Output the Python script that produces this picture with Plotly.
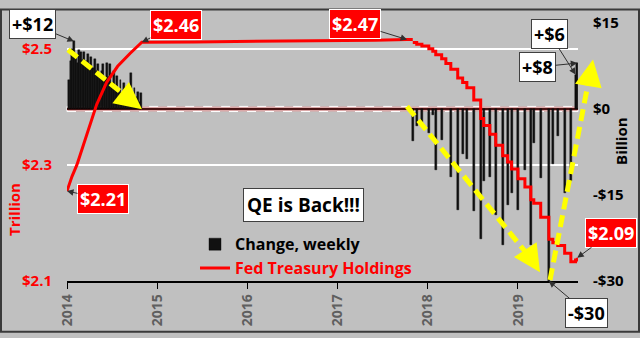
import pandas as pd
import plotly.graph_objects as go

# Weekly change in Fed Treasury holdings, $ billion
taper_start = "2014-01-08"
taper_values = [5.0, 8.3, 10.5, 11.8, 9.5, 8.0, 10.3, 10.0, 8.6, 10.0, 8.3, 9.6,
                7.8, 9.1, 7.1, 8.8, 6.6, 7.8, 5.5, 6.6, 7.8, 5.0, 8.0, 5.5,
                7.8, 4.5, 6.6, 3.6, 5.8, 3.0, 5.0, 2.8, 4.5, 2.5, 4.0, 2.1,
                6.3, 2.5, 3.6, 2.1, 3.0, 1.3, 2.8]

runoff_dates = ["2017-11-01", "2017-11-17", "2017-12-08", "2018-01-05", "2018-01-21",
                "2018-02-02", "2018-02-26", "2018-04-04", "2018-05-02", "2018-05-22",
                "2018-06-08", "2018-07-06", "2018-08-03", "2018-08-15", "2018-09-09",
                "2018-10-03", "2018-10-31", "2018-11-20", "2018-12-06", "2019-01-01",
                "2019-01-29", "2019-02-22", "2019-03-06", "2019-04-03", "2019-05-06",
                "2019-05-22", "2019-06-11", "2019-07-09", "2019-08-03", "2019-08-22",
                "2019-08-29"]
runoff_values = [-5.6, -3.0, -2.5, -4.2, -1.0, -10.6, -5.4, -11.8, -17.6, -7.9,
                 -8.7, -17.8, -22.6, -12.6, -11.8, -18.5, -23.8, -16.8, -14.6, -17.6,
                 -10.6, -23.8, -5.9, -12.1, -30.0, -9.6, -4.7, -14.6, -12.6, 6.0,
                 8.0]

# Fed Treasury holdings, $ trillion: purchases and plateau
holdings_dates = ["2014-01-01", "2014-01-21", "2014-02-10", "2014-03-11", "2014-04-04",
                  "2014-05-01", "2014-06-10", "2014-07-25", "2014-09-13", "2014-10-23",
                  "2014-10-31", "2015-06-01", "2016-06-01", "2017-06-01", "2017-10-09",
                  "2017-11-01"]
holdings_values = [2.205, 2.230, 2.250, 2.288, 2.321, 2.354, 2.392, 2.420, 2.442, 2.458,
                   2.4615, 2.462, 2.463, 2.465, 2.466, 2.466]

# Fed Treasury holdings, $ trillion: balance-sheet runoff (level after each roll-off)
runoff_holdings_dates = ["2017-11-01", "2017-11-17", "2017-12-08", "2018-01-05", "2018-01-21",
                         "2018-02-02", "2018-02-26", "2018-03-15", "2018-04-04", "2018-05-02",
                         "2018-05-22", "2018-06-08", "2018-07-06", "2018-08-03", "2018-08-15",
                         "2018-09-09", "2018-10-03", "2018-10-31", "2018-11-20", "2018-12-06",
                         "2019-01-01", "2019-01-29", "2019-02-22", "2019-03-06", "2019-04-03",
                         "2019-05-06", "2019-05-22", "2019-06-11", "2019-07-09", "2019-08-03",
                         "2019-08-22", "2019-08-29"]
runoff_holdings_values = [2.461, 2.458, 2.455, 2.450, 2.446, 2.440, 2.433, 2.425, 2.415, 2.400,
                          2.392, 2.383, 2.362, 2.330, 2.318, 2.303, 2.284, 2.266, 2.255, 2.243,
                          2.226, 2.212, 2.190, 2.184, 2.160, 2.122, 2.116, 2.111, 2.098, 2.083,
                          2.086, 2.090]

year_ticks = ["2014", "2015", "2016", "2017", "2018", "2019"]
left_tickvals = [2.05, 2.25, 2.45]
left_ticktext = ["$2.1", "$2.3", "$2.5"]
right_tickvals = [-30, -15, 0, 15]
right_ticktext = ["-$30", "-$15", "$0", "$15"]

DAY_MS = 86400000
taper_dates = list(pd.date_range(taper_start, periods=len(taper_values), freq="7D").strftime("%Y-%m-%d"))
bar_x = taper_dates + runoff_dates
bar_y = taper_values + runoff_values
bar_w = [7 * DAY_MS] * len(taper_values) + [8 * DAY_MS] * len(runoff_values)

FONT = "Open Sans"
BG = "#c0c0c0"
RED = "#ff0000"
HOLD_NAME = "<span style='color:#ff0000'>Fed Treasury Holdings</span>"

fig = go.Figure()
fig.add_trace(go.Bar(
    x=bar_x, y=bar_y, width=bar_w, name="Change, weekly",
    marker=dict(color="#111111", line=dict(color="black", width=0.4)),
    yaxis="y",
))
fig.add_trace(go.Scatter(
    x=holdings_dates, y=holdings_values, mode="lines", name=HOLD_NAME,
    legendgroup="hold", line=dict(color=RED, width=3), yaxis="y2",
))
fig.add_trace(go.Scatter(
    x=runoff_holdings_dates, y=runoff_holdings_values, mode="lines", name=HOLD_NAME,
    legendgroup="hold", showlegend=False, line=dict(color=RED, width=3, shape="hv"),
    yaxis="y2",
))

W, H = 640, 338
L, R, T, B = 67, 62, 14, 54
PW, PH = W - L - R, H - T - B


def px(xp):
    return (xp - L) / PW


def py(yp):
    return (H - B - yp) / PH


shapes = []
# zero band for the weekly change axis
shapes.append(dict(type="rect", xref="paper", yref="y", x0=0, x1=1, y0=-0.45, y1=0.45,
                   fillcolor="rgba(228,160,160,0.75)", line=dict(color="white", width=1, dash="dash"),
                   layer="below"))
shapes.append(dict(type="line", xref="paper", yref="y", x0=0, x1=1, y0=0, y1=0,
                   line=dict(color="#4a1414", width=2), layer="below"))

# yellow trend arrows
trend = [((68, 43), (134, 98)), ((407, 102), (532, 262)), ((550, 283), (590, 68))]
for (x0, y0), (x1, y1) in trend:
    shapes.append(dict(type="line", xref="paper", yref="paper",
                       x0=px(x0), y0=py(y0), x1=px(x1), y1=py(y1),
                       line=dict(color="#ffff00", width=5, dash="12px,6px")))

# outer frame
shapes.append(dict(type="rect", xref="paper", yref="paper",
                   x0=px(1), x1=px(W - 1), y0=py(H - 1), y1=py(1),
                   line=dict(color="#3a3a3a", width=2)))

annotations = []
heads = [((124, 91), (142, 105)), ((527, 255), (540, 275)), ((589, 76), (593, 53))]
for (xa, ya), (xt, yt) in heads:
    annotations.append(dict(xref="paper", yref="paper", x=px(xt), y=py(yt), text="",
                            showarrow=True, ax=xa - xt, ay=ya - yt, arrowcolor="#ffff00",
                            arrowwidth=3, arrowhead=2, arrowsize=1.8, standoff=0))


def callout(text, x, y, yref, ax, ay, red):
    return dict(x=x, y=y, xref="x", yref=yref, text=text, showarrow=True, ax=ax, ay=ay,
                font=dict(family=FONT, size=18, color="white" if red else "black", weight=700),
                bgcolor=RED if red else "white",
                bordercolor="white" if red else "#404040", borderwidth=1, borderpad=2,
                arrowcolor="#303030", arrowwidth=1, arrowhead=2, arrowsize=1.3, standoff=0)


annotations += [
    callout("+$12", "2014-01-29", 11.8, "y", -41, -17, False),
    callout("$2.46", "2014-10-31", 2.4615, "y2", 34, -17, True),
    callout("$2.47", "2017-10-09", 2.466, "y2", -52, -16, True),
    callout("$2.21", "2014-01-01", 2.205, "y2", 36, 8, True),
    callout("$2.09", "2019-08-29", 2.090, "y2", 34, -25, True),
    callout("-$30", "2019-05-06", -30, "y", 38, 32, False),
    callout("+$6", "2019-08-22", 6, "y", -26, -41, False),
    callout("+$8", "2019-08-29", 8, "y", -40, 4, False),
]
annotations.append(dict(xref="paper", yref="paper", x=px(303), y=py(205), text="QE is Back!!!",
                        xanchor="center", yanchor="middle", showarrow=False,
                        font=dict(family=FONT, size=19, color="black", weight=700),
                        bgcolor="white", bordercolor="#404040", borderwidth=1, borderpad=3))
annotations.append(dict(xref="paper", yref="paper", x=px(14), y=py(210), text="Trillion",
                        xanchor="center", yanchor="middle", textangle=-90, showarrow=False,
                        font=dict(family=FONT, size=15, color=RED, weight=700)))
annotations.append(dict(xref="paper", yref="paper", x=px(621), y=py(138), text="Billion",
                        xanchor="center", yanchor="middle", textangle=-90, showarrow=False,
                        font=dict(family=FONT, size=15, color="black", weight=700)))

fig.update_layout(
    width=W, height=H,
    margin=dict(l=L, r=R, t=T, b=B),
    paper_bgcolor=BG, plot_bgcolor=BG,
    bargap=0,
    showlegend=True,
    legend=dict(x=px(195), y=py(228), xanchor="left", yanchor="top",
                bgcolor="rgba(0,0,0,0)", itemwidth=30, tracegroupgap=0,
                font=dict(family=FONT, size=16, color="black", weight=700)),
    xaxis=dict(type="date", range=["2014-01-01", "2019-09-01"],
               tickvals=[f"{y}-01-01" for y in year_ticks], ticktext=year_ticks,
               tickangle=-90, ticks="outside", ticklen=6, tickwidth=1, tickcolor="black",
               showline=True, linecolor="black", linewidth=1.5, showgrid=False,
               tickfont=dict(family=FONT, size=14, color="#5f5f5f", weight=700)),
    yaxis=dict(side="right", range=[-30, 15.17], tickvals=right_tickvals, ticktext=right_ticktext,
               showgrid=False, zeroline=False, showline=False, ticks="",
               ticklabelstandoff=14,
               tickfont=dict(family=FONT, size=15, color="black", weight=700)),
    yaxis2=dict(side="left", overlaying="y", range=[2.05, 2.4963],
                tickvals=left_tickvals, ticktext=left_ticktext,
                showgrid=True, gridcolor="white", gridwidth=1.5, zeroline=False,
                showline=False, ticks="", ticklabelstandoff=14,
                tickfont=dict(family=FONT, size=15, color=RED, weight=700)),
    shapes=shapes,
    annotations=annotations,
)

fig.write_html("out.html")
